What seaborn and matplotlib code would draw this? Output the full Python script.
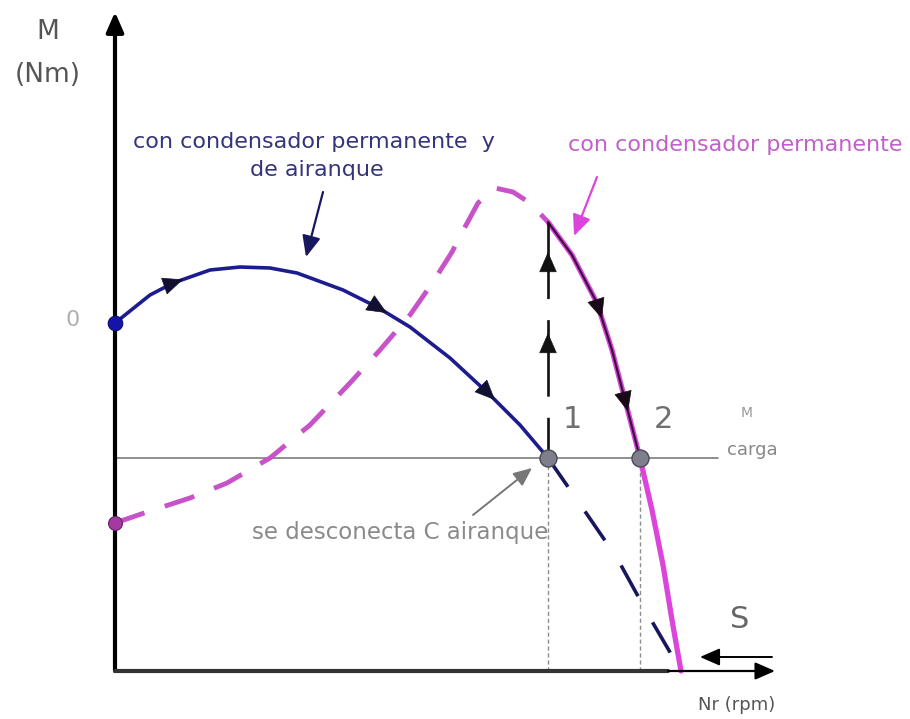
import numpy as np
import matplotlib
matplotlib.use("Agg")
import matplotlib.pyplot as plt
import seaborn as sns

# Torque-speed curves of a single-phase capacitor motor, schematic units.
# N = rotor speed, M = torque, origin at the corner of the axes.
both_caps_n = [0, 35, 58, 95, 125, 155, 182, 228, 262, 295, 335, 375, 405, 433]
both_caps_m = [348, 376, 388, 401, 404, 403, 398, 381, 364, 344, 313, 276, 246, 213]

# same curve past the switching point (start capacitor disconnected)
both_caps_ext_n = [433, 467, 502, 535, 566]
both_caps_ext_m = [213, 164, 113, 53, 0]

perm_cap_low_n = [0, 35, 75, 112, 155, 195, 235, 265, 295, 318, 337, 350, 363, 380, 398, 415, 433]
perm_cap_low_m = [148, 160, 173, 188, 213, 246, 288, 321, 356, 389, 419, 444, 468, 483, 479, 468, 449]

perm_cap_high_n = [433, 457, 482, 497, 510, 525, 537, 548, 557, 566]
perm_cap_high_m = [449, 416, 368, 321, 271, 213, 161, 106, 51, 0]

load_torque = 213
switch_speed = 433      # point 1
run_speed = 525         # point 2
start_torque_both = 348
start_torque_perm = 148
jump_torque = 449       # torque after the jump onto the permanent-capacitor curve

# flow direction marks
both_caps_marks = [68, 272, 380]
perm_high_marks = [487, 513]
jump_marks = [419, 338]

n_axis_end = 660
m_axis_end = 659
load_line_end = 603

BLUE = "#1c1c8e"
NAVY = "#17175f"
MAGENTA = "#dc45dc"
MAGENTA_DASH = "#c853c8"

sns.set_theme(style="white")
plt.rcParams["font.family"] = ["DejaVu Sans"]

fig = plt.figure(figsize=(9.1, 7.19), dpi=100)
ax = fig.add_axes([0, 0, 1, 1])
ax.set_xlim(-115, 795)
ax.set_ylim(-48, 671)
ax.axis("off")


def curve(n, m, **kw):
    sns.lineplot(x=n, y=m, ax=ax, sort=False, estimator=None, legend=False, **kw)


def head(p_from, p_to, color, scale=16, lw=1.0, z=6):
    ax.annotate("", xy=p_to, xytext=p_from,
                arrowprops=dict(arrowstyle="-|>,head_length=0.8,head_width=0.35",
                                color=color, lw=lw, shrinkA=0, shrinkB=0,
                                mutation_scale=scale),
                zorder=z)


def head_on(n, m, n_tip, color, scale=17):
    n = np.asarray(n, float)
    m = np.asarray(m, float)
    tip = (n_tip, np.interp(n_tip, n, m))
    back = (n_tip - 2, np.interp(n_tip - 2, n, m))
    head(back, tip, color, scale=scale, lw=0.5)


# load torque line and speed guides
curve([0, load_line_end], [load_torque, load_torque], color="#7c7c7c", linewidth=1.2, zorder=1)
for n0 in (switch_speed, run_speed):
    curve([n0, n0], [0, load_torque], color="#8e8e8e", linewidth=1.0,
          linestyle=(0, (3, 2)), zorder=1)

# permanent capacitor only: dashed below the switching speed, solid above
curve(perm_cap_low_n, perm_cap_low_m, color=MAGENTA_DASH, linewidth=3.5,
      linestyle=(0, (6.4, 4.4)), zorder=2)
curve(perm_cap_high_n, perm_cap_high_m, color=MAGENTA, linewidth=3.8, zorder=3)
run_n = [v for v in perm_cap_high_n if v <= run_speed]
run_m = perm_cap_high_m[:len(run_n)]
curve(run_n, run_m, color="#3a1240", linewidth=1.6, zorder=4)

# permanent + start capacitor
curve(both_caps_n, both_caps_m, color=BLUE, linewidth=2.6, zorder=4)
curve(both_caps_ext_n, both_caps_ext_m, color=NAVY, linewidth=2.6,
      linestyle=(0, (9.7, 8.3)), zorder=4)

# jump at the switching speed
curve([switch_speed, switch_speed], [jump_torque, load_torque], color="#111111",
      linewidth=1.9, linestyle=(0, (29, 8)), zorder=4)

for t in both_caps_marks:
    head_on(both_caps_n, both_caps_m, t, "#101030")
for t in perm_high_marks:
    head_on(perm_cap_high_n, perm_cap_high_m, t, "#180818")
for t in jump_marks:
    head((switch_speed, t - 2), (switch_speed, t), "#111111", scale=17, lw=0.5)

# axes with arrow heads
head((0, 0), (0, m_axis_end), "black", scale=15, lw=3.0, z=5)
curve([0, 553], [0, 0], color="#333333", linewidth=3.0, zorder=5)
head((553, 0), (n_axis_end, 0), "black", scale=15, lw=1.6, z=5)
head((657, 14), (585, 14), "black", scale=15, lw=1.4, z=5)

# operating points and starting torques
sns.scatterplot(x=[0], y=[start_torque_both], ax=ax, s=110, color="#1414a8",
                edgecolor="#0c0c70", linewidth=0.8, zorder=7, legend=False)
sns.scatterplot(x=[0], y=[start_torque_perm], ax=ax, s=100, color="#a23aa2",
                edgecolor="#6a206a", linewidth=0.8, zorder=7, legend=False)
sns.scatterplot(x=[switch_speed, run_speed], y=[load_torque, load_torque], ax=ax,
                s=150, color="#7e7e8c", edgecolor="#4a4a55", linewidth=1.0,
                zorder=7, legend=False)

# text
ax.text(-67, 639, "M", ha="center", va="center", fontsize=19, color="#555555")
ax.text(-67, 596, "(Nm)", ha="center", va="center", fontsize=19, color="#555555")
ax.text(-42, 351, "0", ha="center", va="center", fontsize=16, color="#b0b0b0")
ax.text(199, 529, "con condensador permanente  y", ha="center", va="center",
        fontsize=16, color="#34347a")
ax.text(202, 501, "de airanque", ha="center", va="center", fontsize=16, color="#34347a")
ax.text(453, 526, "con condensador permanente", ha="left", va="center",
        fontsize=16, color="#c060c8")
ax.text(285, 139, "se desconecta C airanque", ha="center", va="center",
        fontsize=16.5, color="#8a8a8a")
ax.text(457, 251, "1", ha="center", va="center", fontsize=22, color="#707070")
ax.text(548, 251, "2", ha="center", va="center", fontsize=22, color="#707070")
ax.text(632, 258, "M", ha="center", va="center", fontsize=10, color="#999999")
ax.text(637, 221, "carga", ha="center", va="center", fontsize=13, color="#888888", zorder=3)
ax.text(625, 51, "S", ha="center", va="center", fontsize=22, color="#666666")
ax.text(622, -34, "Nr (rpm)", ha="center", va="center", fontsize=13, color="#555555")

# pointers from the labels
head((208, 479), (191, 414), NAVY, scale=16, lw=1.6)
head((482, 494), (459, 435), MAGENTA, scale=16, lw=1.6)
head((358, 156), (417, 203), "#777777", scale=14, lw=1.4)

fig.savefig("out.png", dpi=100)
